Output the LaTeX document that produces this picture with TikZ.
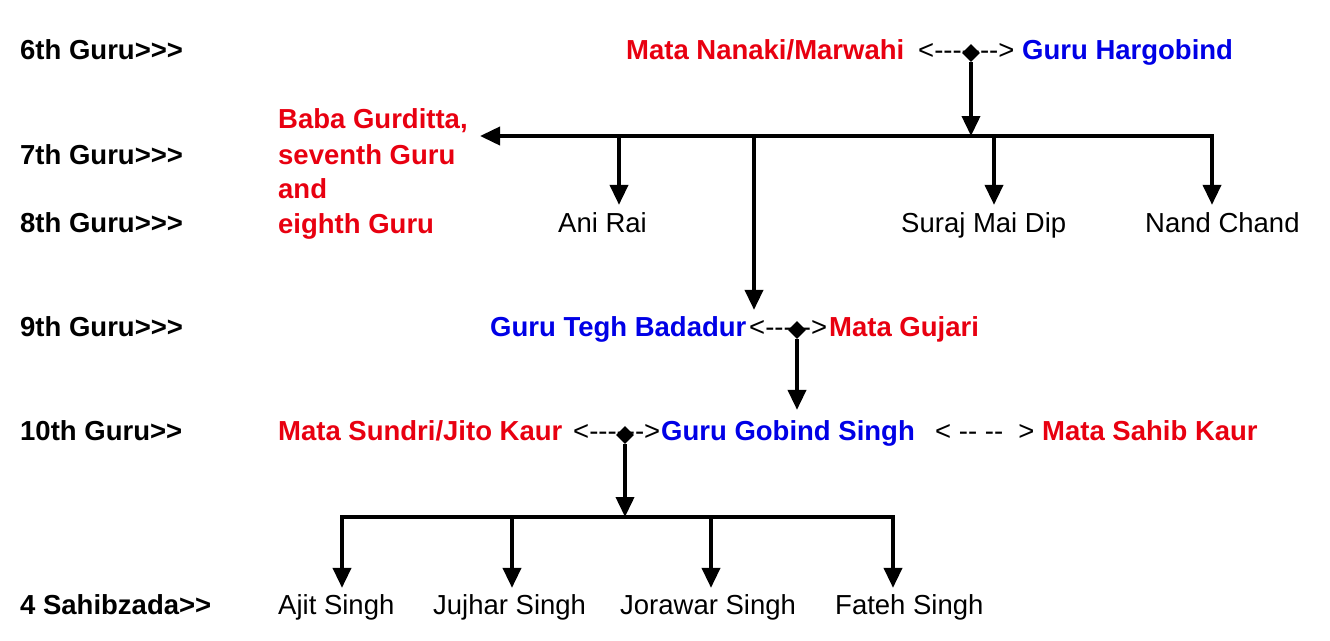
\documentclass[tikz,border=0pt]{standalone}
\usepackage{fontspec}
\setmainfont{Liberation Sans}[Ligatures=TeXOff]
\usetikzlibrary{arrows.meta,shapes.geometric}
\definecolor{nred}{RGB}{232,0,16}
\definecolor{nblue}{RGB}{0,0,230}
\begin{document}
\begin{tikzpicture}[x=1pt,y=-1pt,
  txt/.style={anchor=base west,inner sep=0pt,font=\fontsize{27.5}{32}\selectfont},
  lvl/.style={anchor=base west,inner sep=0pt,font=\fontsize{27.5}{32}\selectfont\bfseries},
  rn/.style={lvl,text=nred},
  bn/.style={lvl,text=nblue},
  junc/.style={diamond,fill=black,inner sep=0pt,minimum width=18pt,minimum height=18pt},
  conn/.style={line width=3.8pt,-{Triangle[width=18pt,length=20pt]}},
  bar/.style={line width=3.8pt,line join=miter,{Triangle[width=18pt,length=20pt]}-{Triangle[width=18pt,length=20pt]}}]
\useasboundingbox (0,0) rectangle (1330,640);
% level labels
\node[lvl] (g6) at (20,59) {6th Guru>>>};
\node[lvl] (g7) at (20,164) {7th Guru>>>};
\node[lvl] (g8) at (20,232) {8th Guru>>>};
\node[lvl] (g9) at (20,336) {9th Guru>>>};
\node[lvl] (g10) at (20,440) {10th Guru>>};
\node[lvl] (g4) at (20,614) {4 Sahibzada>>};
% row 6
\node[rn] (nanaki) at (626,59) {Mata Nanaki/Marwahi};
\node[txt] (m6) at (918,59) {<------->};
\node[bn] (hargobind) at (1022,59) {Guru Hargobind};
% row 7/8
\node[rn,font=\fontsize{27.5}{34.5}\selectfont\bfseries] (baba) at (278,128) {\begin{tabular}[t]{@{}l@{}}Baba Gurditta,\\[1.5pt]seventh Guru\\and\\eighth Guru\end{tabular}};
\node[txt] (ani) at (558,232) {Ani Rai};
\node[txt] (suraj) at (901,232) {Suraj Mai Dip};
\node[txt] (nand) at (1145,232) {Nand Chand};
% row 9
\node[bn] (tegh) at (490,336) {Guru Tegh Badadur};
\node[txt] (m9) at (749,336) {<----->};
\node[rn] (gujari) at (829,336) {Mata Gujari};
% row 10
\node[rn] (sundri) at (278,440) {Mata Sundri/Jito Kaur};
\node[txt] (m10) at (573,440) {<------>};
\node[bn] (gobind) at (661,440) {Guru Gobind Singh};
\node[txt] (m10b) at (935,440) {< -- --\ \ >};
\node[rn] (sahib) at (1042,440) {Mata Sahib Kaur};
% sons
\node[txt] (ajit) at (278,614) {Ajit Singh};
\node[txt] (jujhar) at (433,614) {Jujhar Singh};
\node[txt] (jorawar) at (620,614) {Jorawar Singh};
\node[txt] (fateh) at (835,614) {Fateh Singh};
% junctions
\node[junc] (d6) at (971,53) {};
\node[junc] (d9) at (797,330) {};
\node[junc] (d10) at (625,435) {};
\coordinate (j6) at (971,136);
\coordinate (t7) at (1212,136);
\coordinate (babatip) at (480,136);
\coordinate (bani) at (619,136);
\coordinate (btegh) at (754,136);
\coordinate (bsuraj) at (994,136);
\coordinate (jb) at (625,517);
\coordinate (s1) at (342,517);
\coordinate (s2) at (512,517);
\coordinate (s3) at (711,517);
\coordinate (s4) at (893,517);
% connectors
\draw[conn] (d6) -- (j6);
\draw[bar,shorten <=7pt] (t7 |- nand.north) -- (t7) -- (babatip);
\draw[conn,shorten >=7pt] (bani) -- (bani |- ani.north);
\draw[conn,shorten >=6pt] (btegh) -- (btegh |- tegh.north);
\draw[conn,shorten >=7pt] (bsuraj) -- (bsuraj |- suraj.north);
\draw[conn,shorten >=10pt] (d9) -- (d9 |- gobind.north);
\draw[conn] (d10) -- (jb);
\draw[bar,shorten <=6pt,shorten >=6pt] (s1 |- ajit.north) -- (s1) -- (s4) -- (s4 |- fateh.north);
\draw[conn,shorten >=6pt] (s2) -- (s2 |- jujhar.north);
\draw[conn,shorten >=6pt] (s3) -- (s3 |- jorawar.north);
\end{tikzpicture}
\end{document}
